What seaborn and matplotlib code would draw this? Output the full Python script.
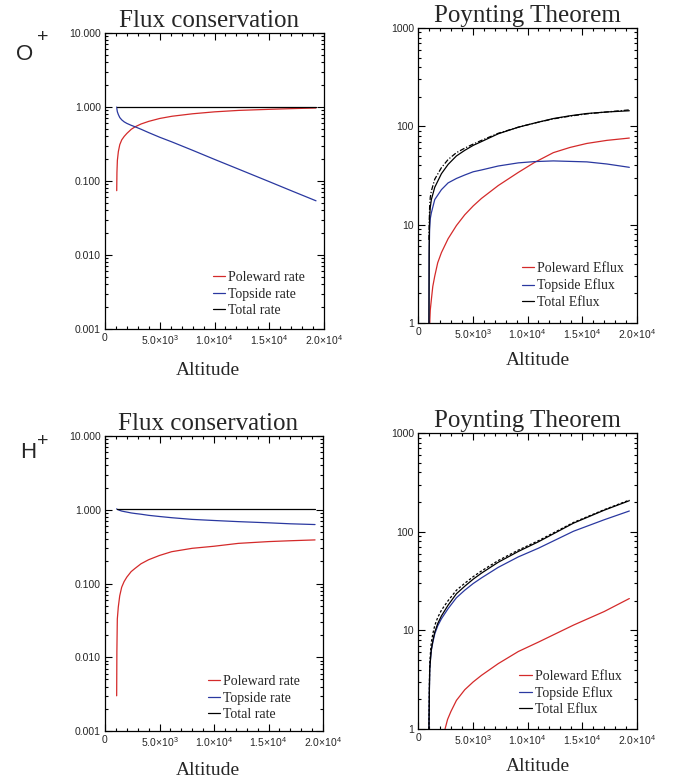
import numpy as np
import pandas as pd
import matplotlib
matplotlib.use("Agg")
import matplotlib.pyplot as plt
import seaborn as sns
from matplotlib.ticker import FixedLocator, MultipleLocator, LogLocator, NullFormatter, FixedFormatter

sns.set_style("ticks")
plt.rcParams['font.family'] = ['Liberation Sans', 'DejaVu Sans']
plt.rcParams['mathtext.fontset'] = 'custom'
plt.rcParams['mathtext.rm'] = 'Liberation Sans'
plt.rcParams['mathtext.it'] = 'Liberation Sans:italic'
plt.rcParams['mathtext.bf'] = 'Liberation Sans:bold'
SERIF = ['Liberation Serif', 'DejaVu Serif']

# ---------------- data ----------------
# O+ flux conservation
o_flux_x = [1070, 1090, 1130, 1220, 1350, 1530, 1750, 2000, 2400, 2750, 3300, 4000, 5000, 6120, 8000, 10000, 12230, 15000, 17000, 19270]
o_pole_rate = [0.074, 0.13, 0.19, 0.25, 0.31, 0.36, 0.40, 0.44, 0.50, 0.54, 0.59, 0.64, 0.70, 0.75, 0.81, 0.86, 0.90, 0.93, 0.95, 0.97]
o_top_rate = [1.0, 0.93, 0.86, 0.79, 0.72, 0.67, 0.63, 0.60, 0.565, 0.54, 0.50, 0.45, 0.39, 0.337, 0.26, 0.196, 0.144, 0.098, 0.074, 0.054]
o_total_rate = [1.0, 1.0, 1.0, 1.0, 1.0, 1.0, 1.0, 1.0, 1.0, 1.0, 1.0, 1.0, 1.0, 1.0, 1.0, 1.0, 1.0, 1.0, 1.0, 1.0]

# H+ flux conservation
h_flux_x = [1070, 1090, 1130, 1220, 1350, 1530, 1750, 2000, 2400, 2750, 3300, 4000, 5000, 6120, 8000, 10000, 12230, 15000, 17000, 19270]
h_pole_rate = [0.003, 0.012, 0.033, 0.048, 0.068, 0.089, 0.106, 0.122, 0.145, 0.16, 0.185, 0.21, 0.24, 0.27, 0.30, 0.32, 0.35, 0.37, 0.38, 0.39]
h_top_rate = [1.03, 1.02, 1.01, 1.0, 0.98, 0.96, 0.945, 0.93, 0.905, 0.89, 0.87, 0.84, 0.81, 0.78, 0.74, 0.715, 0.69, 0.665, 0.645, 0.63]
h_total_rate = [1.03, 1.03, 1.03, 1.03, 1.03, 1.03, 1.03, 1.03, 1.03, 1.03, 1.03, 1.03, 1.03, 1.03, 1.03, 1.03, 1.03, 1.03, 1.03, 1.03]

# O+ Poynting theorem
op_x = [1000, 1020, 1060, 1120, 1220, 1530, 2140, 2750, 3510, 4270, 5040, 5800, 7330, 9160, 10650, 12360, 13880, 15420, 17250, 19300]
op_total = [1, 6, 12, 15, 18, 24, 33, 41, 50, 57, 64, 70, 84, 98, 108, 120, 128, 135, 140, 144]
op_total_check = [7, 10, 15, 19, 22, 29, 38, 46, 54, 60, 66, 72, 85, 98, 108, 119, 127, 134, 140, 147]
op_top = [1, 5, 9, 11.5, 13.2, 18, 22.7, 26.6, 29.5, 32, 34.5, 36, 39.5, 42.5, 43.8, 44.5, 44, 43.5, 41.4, 38.3]
op_pole_x = [1070, 1120, 1220, 1350, 1530, 1800, 2140, 2750, 3510, 4270, 5040, 5800, 7330, 9160, 10650, 12360, 13880, 15420, 17250, 19300]
op_pole = [1.0, 1.35, 1.73, 2.35, 3.0, 4.1, 5.2, 7.2, 9.8, 12.6, 15.5, 18.5, 25, 34, 43, 54, 61, 67, 72, 76]

# H+ Poynting theorem
hp_x = [1000, 1040, 1070, 1150, 1220, 1370, 1530, 1800, 2140, 2750, 3510, 4270, 5040, 5800, 7330, 9160, 11000, 14200, 17000, 19300]
hp_total = [1, 2.5, 4.0, 5.3, 6.4, 8.0, 9.6, 11.7, 14, 18, 23.5, 28, 33, 38, 49, 63, 79, 122, 165, 206]
hp_total_check = [1, 2.8, 4.6, 6.2, 7.6, 9.4, 11.2, 13.5, 16, 20, 25.5, 30, 35, 40, 51, 65, 81, 124, 167, 209]
hp_top = [1, 2.5, 4.0, 5.2, 6.3, 7.7, 9.2, 11.1, 13.1, 16.6, 21.4, 25.5, 29.8, 34, 43.5, 55.5, 68, 101, 132, 162]
hp_pole_x = [2470, 2700, 3000, 3510, 4270, 5040, 5800, 7330, 9160, 11000, 14200, 17000, 19300]
hp_pole = [1.0, 1.25, 1.5, 1.95, 2.5, 3.0, 3.5, 4.6, 6.1, 7.6, 11.3, 15.5, 21]

x_ticks = [0, 5000, 10000, 15000, 20000]
x_tick_labels = ["0", r"$\mathregular{5.0{\times}10^{3}}$", r"$\mathregular{1.0{\times}10^{4}}$",
                 r"$\mathregular{1.5{\times}10^{4}}$", r"$\mathregular{2.0{\times}10^{4}}$"]
flux_ticks = [0.001, 0.01, 0.1, 1, 10]
flux_tick_labels = ["0.001", "0.010", "0.100", "1.000", "10.000"]
poy_ticks = [1, 10, 100, 1000]
poy_tick_labels = ["1", "10", "100", "1000"]

flux_labels = ["Poleward rate", "Topside rate", "Total rate"]
poy_labels = ["Poleward Eflux", "Topside Eflux", "Total Eflux"]

RED = "#d42a2a"
BLUE = "#2a38a0"
BLACK = "#000000"
LW = 0.9

# ---------------- figure ----------------
W, H = 678, 782
fig = plt.figure(figsize=(W / 100, H / 100), dpi=100)


def axes_px(l, t, r, b):
    return fig.add_axes([l / W, 1 - b / H, (r - l) / W, (b - t) / H])


def style(ax, yticks, ylabels, ylim):
    ax.set_xlim(0, 20000)
    ax.set_yscale("log")
    ax.set_ylim(*ylim)
    ax.xaxis.set_major_locator(FixedLocator(x_ticks))
    ax.xaxis.set_major_formatter(FixedFormatter(x_tick_labels))
    ax.xaxis.set_minor_locator(MultipleLocator(1000))
    ax.yaxis.set_major_locator(FixedLocator(yticks))
    ax.yaxis.set_major_formatter(FixedFormatter(ylabels))
    ax.yaxis.set_minor_locator(LogLocator(base=10, subs=np.arange(2, 10)))
    ax.yaxis.set_minor_formatter(NullFormatter())
    ax.tick_params(which="both", direction="in", top=True, right=True, width=0.8, color="black")
    ax.tick_params(which="major", length=5, labelsize=7.5, pad=3)
    ax.tick_params(which="minor", length=2.5)
    for s in ax.spines.values():
        s.set_linewidth(0.9)
        s.set_color("black")
    ax.set_xlabel("")
    ax.set_ylabel("")


def draw(ax, xs, ys, colors, labels, styles):
    for x, y, c, lab, ls in zip(xs, ys, colors, labels, styles):
        sns.lineplot(x=x, y=y, ax=ax, color=c, lw=LW, linestyle=ls, label=lab,
                     sort=False, estimator=None)


def finish(ax, title, tx, xlx, xly, legx, legy, lab3):
    ax.set_title(title, fontsize=18, family=SERIF, pad=4.5)
    ax.title.set_x(tx)
    ax.set_xlabel("Altitude", fontsize=14, family=SERIF)
    ax.xaxis.set_label_coords(xlx, xly)
    handles, labels = ax.get_legend_handles_labels()
    hl = [(h, l) for h, l in zip(handles, labels) if l in lab3]
    ax.legend([h for h, _ in hl], [l for _, l in hl], loc="lower left",
              bbox_to_anchor=(legx, legy), frameon=False,
              prop={"family": SERIF, "size": 10}, handlelength=0.9,
              handletextpad=0.2, labelspacing=0.25, borderpad=0, borderaxespad=0)


# O+ flux
ax1 = axes_px(105, 33, 324, 329)
draw(ax1, [o_flux_x, o_flux_x, o_flux_x], [o_pole_rate, o_top_rate, o_total_rate],
     [RED, BLUE, BLACK], flux_labels, ["-", "-", "-"])
style(ax1, flux_ticks, flux_tick_labels, (0.001, 10))
finish(ax1, "Flux conservation", 0.477, 0.47, -0.11, 0.493, 0.04, flux_labels)

# O+ Poynting
ax2 = axes_px(418, 28, 637, 323)
draw(ax2, [op_pole_x, op_x, op_x, op_x], [op_pole, op_top, op_total, op_total_check],
     [RED, BLUE, BLACK, BLACK], poy_labels + ["_check"], ["-", "-", "-", (0, (4, 1.5, 1, 1.5))])
style(ax2, poy_ticks, poy_tick_labels, (1, 1000))
finish(ax2, "Poynting Theorem", 0.5, 0.549, -0.097, 0.473, 0.048, poy_labels)

# H+ flux
ax3 = axes_px(105, 436, 323, 731)
draw(ax3, [h_flux_x, h_flux_x, h_flux_x], [h_pole_rate, h_top_rate, h_total_rate],
     [RED, BLUE, BLACK], flux_labels, ["-", "-", "-"])
style(ax3, flux_ticks, flux_tick_labels, (0.001, 10))
finish(ax3, "Flux conservation", 0.474, 0.47, -0.104, 0.471, 0.033, flux_labels)

# H+ Poynting
ax4 = axes_px(418, 433, 637, 729)
draw(ax4, [hp_pole_x, hp_x, hp_x, hp_x], [hp_pole, hp_top, hp_total, hp_total_check],
     [RED, BLUE, BLACK, BLACK], poy_labels + ["_check"], ["-", "-", "-", (0, (2, 1.5))])
style(ax4, poy_ticks, poy_tick_labels, (1, 1000))
finish(ax4, "Poynting Theorem", 0.5, 0.549, -0.099, 0.463, 0.043, poy_labels)

# species labels
fig.text(16 / W, 1 - 60 / H, "O", fontsize=16, va="baseline", ha="left")
fig.text(37 / W, 1 - 38 / H, "+", fontsize=14, va="center", ha="left")
fig.text(20 / W, 1 - 458 / H, "H", fontsize=16, va="baseline", ha="left")
fig.text(37 / W, 1 - 441.5 / H, "+", fontsize=14, va="center", ha="left")

fig.savefig("out.png", dpi=100, facecolor="white")
